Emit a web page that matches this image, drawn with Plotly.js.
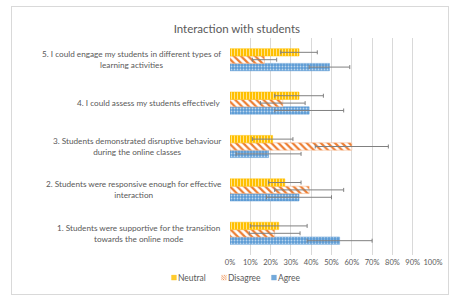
<!DOCTYPE html>
<html>
<head>
<meta charset="utf-8">
<script src="https://cdn.plot.ly/plotly-3.0.1.min.js"></script>
<style>
html,body{margin:0;padding:0;background:#fff;}
#wrap{position:relative;width:452px;height:296px;}
#chart{width:452px;height:296px;}
#frame{position:absolute;left:11px;top:6px;width:436px;height:287px;border:1px solid #d9d9d9;pointer-events:none;}
</style>
</head>
<body>
<div id="wrap"><div id="chart"></div><div id="frame"></div></div>
<script>
var categories = [
  "1. Students were supportive for the transition<br>towards the online mode",
  "2. Students were responsive enough for effective<br>interaction",
  "3. Students demonstrated disruptive behaviour<br>during the online classes",
  "4. I could assess my students effectively",
  "5. I could engage my students in different types of<br>learning activities"
];
var catKeys = ["c1","c2","c3","c4","c5"];
var neutral = [24, 27, 21, 34, 34];
var neutralErr = [14, 8, 10, 12, 9];
var disagree = [22, 39, 60, 26, 17];
var disagreeErr = [12.5, 17, 18, 11, 6];
var agree = [54, 34, 19, 39, 49];
var agreeErr = [16, 16, 16, 17, 10];
var tickVals = [0,10,20,30,40,50,60,70,80,90,100];

var gray = '#595959';
var fam = 'Lato, "Liberation Sans", sans-serif';
function errb(arr){
  return {type:'data', array:arr, visible:true, color:'#808080', thickness:1, width:2};
}
var traces = [
  {type:'bar', orientation:'h', name:'Agree', y:catKeys, x:agree, error_x:errb(agreeErr),
   marker:{color:'#5B9BD5', line:{color:'#5B9BD5', width:0.5},
     pattern:{shape:'.', fgcolor:'#BDD7EE', bgcolor:'#5B9BD5', size:3, solidity:0.3, fillmode:'replace'}}},
  {type:'bar', orientation:'h', name:'Disagree', y:catKeys, x:disagree, error_x:errb(disagreeErr),
   marker:{color:'#ED7D31', line:{color:'#F4B183', width:0.5},
     pattern:{shape:'\\', fgcolor:'#ED7D31', bgcolor:'#ffffff', size:5, solidity:0.45, fillmode:'replace'}}},
  {type:'bar', orientation:'h', name:'Neutral', y:catKeys, x:neutral, error_x:errb(neutralErr),
   marker:{color:'#FFC000', line:{color:'#FFC000', width:0.5},
     pattern:{shape:'|', fgcolor:'#FFE699', bgcolor:'#FFC000', size:3, solidity:0.3, fillmode:'replace'}}}
];

var annotations = categories.map(function(c, i){
  return {xref:'paper', yref:'y', x:0, y:catKeys[i], xanchor:'right', yanchor:'middle',
    xshift:-7, text:c, align:'center', showarrow:false,
    font:{family:fam, size:8.2, color:gray}};
});

var layout = {
  width:452, height:296,
  margin:{l:230, r:19, t:38, b:41, pad:0, autoexpand:false},
  paper_bgcolor:'#ffffff', plot_bgcolor:'#ffffff',
  barmode:'group', bargap:0.49, bargroupgap:0,
  title:{text:'Interaction with students', x:0.524, xanchor:'center', xref:'container',
    y:1-29/296, yref:'container', yanchor:'middle',
    font:{family:fam, size:11.5, color:gray}},
  xaxis:{range:[0,100], tickvals:tickVals, ticktext:tickVals.map(function(v){return v+'%';}),
    tickangle:0, showgrid:true, gridcolor:'#d9d9d9', gridwidth:1, zeroline:false, showline:false,
    ticks:'', ticklabelstandoff:1,
    tickfont:{family:fam, size:7.5, color:gray}, fixedrange:true},
  yaxis:{type:'category', categoryorder:'array', categoryarray:catKeys, showticklabels:false,
    showgrid:false, zeroline:false, showline:false, ticks:'', fixedrange:true},
  showlegend:true,
  legend:{orientation:'h', traceorder:'reversed', xref:'paper', yref:'paper',
    x:-0.084, xanchor:'center', y:-0.104, yanchor:'middle',
    font:{family:fam, size:8.5, color:gray},
    itemwidth:30, entrywidth:5, entrywidthmode:'pixels', tracegroupgap:0, bgcolor:'rgba(0,0,0,0)'},
  annotations:annotations
};
Plotly.newPlot('chart', traces, layout, {displayModeBar:false, staticPlot:true}).then(function(gd){
  var pts = document.querySelectorAll('.legend .legendpoints path');
  pts.forEach(function(p){ p.setAttribute('transform', 'translate(36,0) scale(0.42)'); });
  var sb = document.querySelectorAll('.legend .scrollbox, .legend');
  sb.forEach(function(n){ n.removeAttribute('clip-path'); });
});
</script>
</body>
</html>
